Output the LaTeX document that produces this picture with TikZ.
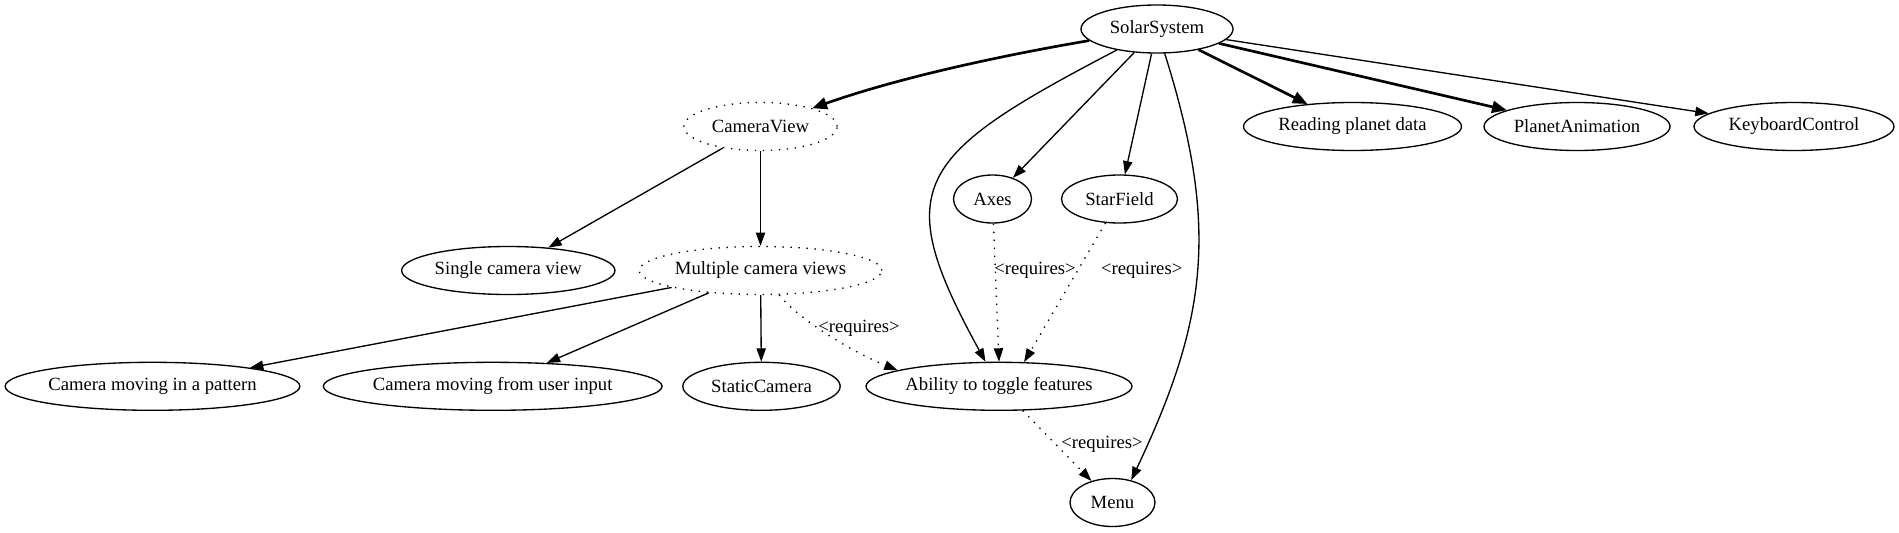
\documentclass[tikz,border=0pt]{standalone}
\usepackage{fontspec}
\setmainfont{Liberation Serif}
\usetikzlibrary{arrows.meta,shapes.geometric}
\tikzset{
  gnode/.style={ellipse, draw, line width=1pt, minimum height=36pt, inner sep=0pt,
    font=\fontsize{14pt}{16pt}\selectfont},
  dotnode/.style={gnode, dash pattern=on 1pt off 5pt},
  conn/.style={line width=1pt, -{Triangle[length=10pt,width=7pt]}},
  boldconn/.style={line width=2pt, -{Triangle[length=11pt,width=9pt]}},
  dotconn/.style={conn, dash pattern=on 1pt off 5pt},
  lbl/.style={font=\fontsize{14pt}{16pt}\selectfont, inner sep=0pt},
}
\begin{document}
\begin{tikzpicture}[x=0.75pt,y=-0.75pt]
\path[fill=white,use as bounding box] (0,0) rectangle (1899,532);
% nodes
\node[gnode, minimum width=114pt] (ss) at (1157,29) {SolarSystem};
\node[dotnode, minimum width=115pt] (cv) at (760.5,126.5) {CameraView};
\node[gnode, minimum width=163.5pt] (rpd) at (1352.5,126.5) {Reading planet data};
\node[gnode, minimum width=139.5pt] (pa) at (1577,126.5) {PlanetAnimation};
\node[gnode, minimum width=150pt] (kc) at (1794,126.5) {KeyboardControl};
\node[gnode, minimum width=58.5pt] (axes) at (992.5,199) {Axes};
\node[gnode, minimum width=87pt] (sf) at (1119.5,199) {StarField};
\node[gnode, minimum width=160pt] (single) at (508.3,270.5) {Single camera view};
\node[dotnode, minimum width=182pt] (mult) at (760.5,270.5) {Multiple camera views};
\node[gnode, minimum width=221pt] (pattern) at (152.5,386.3) {Camera moving in a pattern};
\node[gnode, minimum width=252.5pt] (user) at (492.7,386.3) {Camera moving from user input};
\node[gnode, minimum width=118pt] (static) at (761.5,386.3) {StaticCamera};
\node[gnode, minimum width=199.5pt] (ability) at (999,386.3) {Ability to toggle features};
\node[gnode, minimum width=63.75pt] (menu) at (1112.5,502.5) {Menu};
% labels
\node[lbl] (l1) at (859,328.3) {<requires>};
\node[lbl] (l2) at (1035,270) {<requires>};
\node[lbl] (l3) at (1141.7,270) {<requires>};
\node[lbl] (l4) at (1102,444) {<requires>};
% edges
\draw[boldconn] (ss) .. controls (993,57) and (895,79) .. (cv);
\draw[boldconn] (ss) -- (rpd);
\draw[boldconn] (ss) -- (pa);
\draw[conn] (ss) -- (kc);
\draw[conn] (ss) -- (axes);
\draw[conn] (ss) -- (sf);
\draw[conn] (ss) .. controls (914,156) and (889,186) .. (ability);
\draw[conn] (ss) .. controls (1219,226) and (1208,318) .. (menu.50);
\draw[conn] (cv) -- (single);
\draw[conn] (cv) -- (mult);
\draw[conn] (mult) -- (pattern);
\draw[conn] (mult) -- (user);
\draw[conn] (mult) -- (static);
\draw[dotconn] (mult) .. controls (797,318) and (850,351) .. (ability.171);
\draw[dotconn] (axes) -- (ability.north);
\draw[dotconn] (sf) -- (ability.44);
\draw[dotconn] (ability) -- (menu);
\end{tikzpicture}
\end{document}
